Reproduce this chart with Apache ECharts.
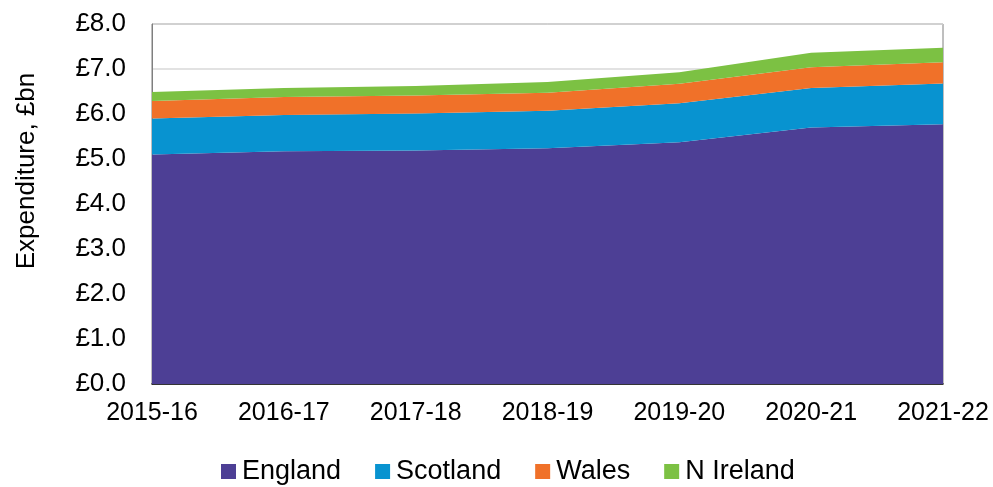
<!DOCTYPE html>
<html>
<head>
<meta charset="utf-8">
<script src="https://cdn.jsdelivr.net/npm/echarts@6/dist/echarts.min.js"></script>
<style>
  html, body { margin: 0; padding: 0; background: #fff; }
  #chart { width: 993px; height: 487px; }
</style>
</head>
<body>
<div id="chart"></div>
<script>
// Years on the x axis
const years = ["2015-16", "2016-17", "2017-18", "2018-19", "2019-20", "2020-21", "2021-22"];

// Expenditure by nation, £bn (stacked)
const england = [5.10, 5.17, 5.19, 5.24, 5.37, 5.70, 5.77];
const scotland = [0.80, 0.81, 0.82, 0.83, 0.87, 0.88, 0.91];
const wales = [0.39, 0.40, 0.40, 0.40, 0.43, 0.46, 0.47];
const nIreland = [0.20, 0.20, 0.21, 0.24, 0.26, 0.32, 0.32];

const fontFamily = "Liberation Sans, Arial, sans-serif";

function areaSeries(name, data, color) {
  return {
    name: name,
    type: "line",
    stack: "total",
    data: data,
    symbol: "none",
    lineStyle: { width: 0 },
    areaStyle: { color: color, opacity: 1 },
    itemStyle: { color: color },
  };
}

const chart = echarts.init(document.getElementById("chart"));

chart.setOption({
  animation: false,
  textStyle: { fontFamily: fontFamily },
  grid: {
    left: 152,
    right: 50,
    top: 24,
    bottom: 103,
    show: true,
    borderColor: "#7f7f7f",
    borderWidth: 1,
  },
  legend: {
    left: 216,
    top: 453,
    itemWidth: 15,
    itemHeight: 15,
    itemGap: 34,
    icon: "rect",
    textStyle: { fontSize: 27, color: "#000", fontFamily: fontFamily, padding: [0, 0, 0, 1] },
    data: ["England", "Scotland", "Wales", "N Ireland"],
  },
  xAxis: {
    type: "category",
    boundaryGap: false,
    data: years,
    axisLine: { lineStyle: { color: "#000", width: 1.5 } },
    axisTick: { show: false },
    axisLabel: { fontSize: 25, color: "#000", margin: 17 },
  },
  yAxis: {
    type: "value",
    min: 0,
    max: 8,
    interval: 1,
    name: "Expenditure, £bn",
    nameLocation: "middle",
    nameGap: 112,
    nameTextStyle: { fontSize: 26, color: "#000", padding: [0, 0, 0, 66] },
    axisLine: { show: true, lineStyle: { color: "#7f7f7f" } },
    axisTick: { show: false },
    axisLabel: {
      fontSize: 26,
      color: "#000",
      margin: 26,
      formatter: (v) => "£" + v.toFixed(1),
    },
    splitLine: { lineStyle: { color: "#d9d9d9", width: 1.5 } },
  },
  series: [
    areaSeries("England", england, "#4d3f95"),
    areaSeries("Scotland", scotland, "#0893d0"),
    areaSeries("Wales", wales, "#f07129"),
    areaSeries("N Ireland", nIreland, "#7cc143"),
  ],
});
</script>
</body>
</html>
